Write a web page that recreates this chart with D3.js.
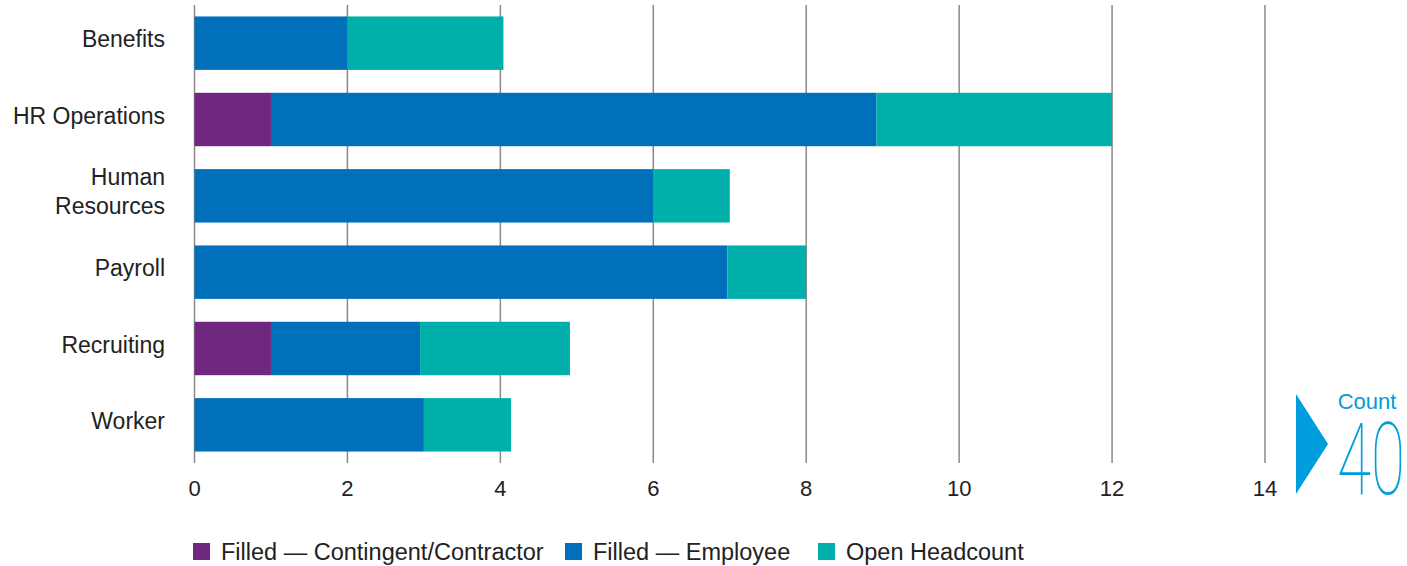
<!DOCTYPE html>
<html>
<head>
<meta charset="utf-8">
<script src="https://cdn.jsdelivr.net/npm/d3@7"></script>
<style>
  body { margin: 0; background: #fff; }
  text { font-family: "Liberation Sans", Arial, sans-serif; }
</style>
</head>
<body>
<div id="chart"></div>
<script>
// data
var categories = ["Benefits", "HR Operations", "Human Resources", "Payroll", "Recruiting", "Worker"];
var seriesNames = ["Filled \u2014 Contingent/Contractor", "Filled \u2014 Employee", "Open Headcount"];
var contingent = [0, 1, 0, 0, 1, 0];
var employee   = [2, 7.92, 6, 6.97, 1.95, 3];
var openCount  = [2.04, 3.08, 1, 1.03, 1.96, 1.14];
var xTicks = [0, 2, 4, 6, 8, 10, 12, 14];
var colors = ["#70277f", "#0070ba", "#00afa9"];
var totalLabel = "Count";
var totalValue = 40;

var width = 1407, height = 566;
var margin = { top: 5, left: 194.5, right: 142, bottom: 103 };

var svg = d3.select("#chart").append("svg")
    .attr("width", width)
    .attr("height", height);

var x = d3.scaleLinear()
    .domain([0, 14])
    .range([margin.left, width - margin.right]);

var y = d3.scaleBand()
    .domain(categories)
    .range([margin.top, height - margin.bottom])
    .paddingInner(0.3)
    .paddingOuter(0.15);

// gridlines
svg.append("g").selectAll("line")
    .data(xTicks)
    .enter().append("line")
    .attr("x1", function(d) { return x(d); })
    .attr("x2", function(d) { return x(d); })
    .attr("y1", margin.top)
    .attr("y2", height - margin.bottom)
    .style("stroke", "#8a8a8a")
    .style("stroke-width", 1.5);

// stacked bars
var rows = categories.map(function(c, i) {
    return { cat: c, a: contingent[i], b: employee[i], c: openCount[i] };
});
var stack = d3.stack().keys(["a", "b", "c"]);
var layers = stack(rows);

svg.append("g").selectAll("g")
    .data(layers)
    .enter().append("g")
    .attr("fill", function(d, i) { return colors[i]; })
    .selectAll("rect")
    .data(function(d) { return d; })
    .enter().append("rect")
    .attr("x", function(d) { return x(d[0]); })
    .attr("width", function(d) { return Math.max(0, x(d[1]) - x(d[0])); })
    .attr("y", function(d) { return y(d.data.cat); })
    .attr("height", y.bandwidth());

// x tick labels
svg.append("g").selectAll("text")
    .data(xTicks)
    .enter().append("text")
    .attr("x", function(d) { return x(d); })
    .attr("y", 496)
    .attr("text-anchor", "middle")
    .style("font-size", "22px")
    .style("fill", "#222")
    .text(function(d) { return d; });

// category labels (wrap Human Resources)
var catLabels = svg.append("g").selectAll("text")
    .data(categories)
    .enter().append("text")
    .attr("text-anchor", "end")
    .style("font-size", "23px")
    .style("fill", "#222");

catLabels.each(function(d) {
    var t = d3.select(this);
    var cy = y(d) + y.bandwidth() / 2;
    var lines = d == "Human Resources" ? ["Human", "Resources"] : [d];
    lines.forEach(function(l, k) {
        t.append("tspan")
            .attr("x", 165)
            .attr("y", cy + 4 + (k - (lines.length - 1) / 2) * 29)
            .text(l);
    });
});

// legend
var legend = svg.append("g").attr("transform", "translate(193,543)");
var legendOffsets = [0, 372, 625];
seriesNames.forEach(function(s, i) {
    var g = legend.append("g").attr("transform", "translate(" + legendOffsets[i] + ",0)");
    g.append("rect").attr("width", 17).attr("height", 17).attr("fill", colors[i]);
    g.append("text")
        .attr("x", 28)
        .attr("y", 17)
        .style("font-size", "23.5px")
        .style("fill", "#222")
        .text(s);
});

// count badge
var badge = svg.append("g");
badge.append("path")
    .attr("d", "M1296,394 L1328,444 L1296,494 Z")
    .attr("fill", "#009ddc");
badge.append("text")
    .attr("x", 1367)
    .attr("y", 409)
    .attr("text-anchor", "middle")
    .style("font-size", "22px")
    .style("fill", "#009ddc")
    .text(totalLabel);
badge.append("text")
    .attr("transform", "translate(1371,494) scale(0.62,1)")
    .attr("text-anchor", "middle")
    .style("font-family", "Roboto, sans-serif")
    .style("font-weight", 100)
    .style("font-size", "100px")
    .style("fill", "#009ddc")
    .text(totalValue);
</script>
</body>
</html>
